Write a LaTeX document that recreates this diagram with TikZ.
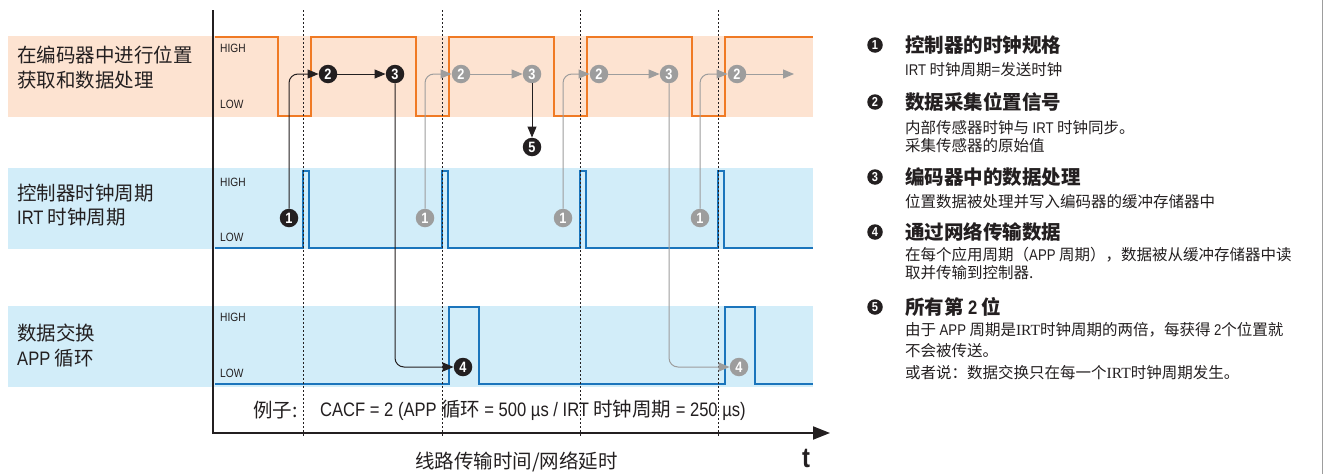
\documentclass[tikz,border=0pt]{standalone}
\usepackage{fontspec}
\setmainfont{Noto Sans CJK SC}
\newfontfamily\lat{Liberation Sans}[FakeStretch=0.85]
\newfontfamily\latser{Liberation Serif}
\usetikzlibrary{arrows.meta}
\definecolor{orline}{HTML}{F07A24}
\definecolor{orband}{HTML}{FDE3D1}
\definecolor{blline}{HTML}{1B75BC}
\definecolor{blband}{HTML}{D2EDF9}
\definecolor{mgray}{HTML}{9D9D9D}
\definecolor{dark}{HTML}{231F20}
\newcommand{\fs}[1]{\fontsize{#1}{#1}\selectfont}
\tikzset{
  sig/.style={line width=2.4pt, line join=miter},
  grid/.style={draw=dark, line width=0.8pt, dash pattern=on 2pt off 2pt},
  mk/.style={circle, fill=dark, text=white, inner sep=0pt, minimum size=18.5pt, font=\lat\bfseries\fs{15}},
  gmk/.style={mk, fill=mgray},
  lmk/.style={mk, minimum size=15.5pt, font=\lat\bfseries\fs{13}},
  conn/.style={draw=dark, line width=1pt, rounded corners=9pt, -{Triangle[length=11pt,width=9pt]}},
  gconn/.style={conn, draw=mgray},
  hl/.style={anchor=west, font=\lat\fs{12}, text=dark, inner sep=0pt},
  lbl/.style={anchor=west, font=\fs{19.5}, text=dark, inner sep=0pt},
  ltitle/.style={anchor=west, font=\bfseries\fs{19.5}, text=dark, inner sep=0pt},
  lsub/.style={anchor=west, font=\fs{15.5}, text=dark, inner sep=0pt},
}
\begin{document}
\begin{tikzpicture}[x=1pt,y=-1pt]
\useasboundingbox (0,0) rectangle (1324,474);
\fill[white] (0,0) rectangle (1324,474);
% bands
\fill[orband] (8,36) rectangle (813,117);
\fill[blband] (8,168) rectangle (813,249);
\fill[blband] (8,306) rectangle (813,387);
% signals
\draw[sig, orline] (215,37) -- (278,37) -- (278,116) -- (311,116) -- (311,37) -- (416,37) -- (416,116) -- (449,116) -- (449,37) -- (554,37) -- (554,116) -- (587,116) -- (587,37) -- (692,37) -- (692,116) -- (725,116) -- (725,37) -- (813,37);
\draw[sig, blline] (215,248) -- (303,248) -- (303,171) -- (309,171) -- (309,248) -- (442,248) -- (442,171) -- (448,171) -- (448,248) -- (580,248) -- (580,171) -- (586,171) -- (586,248) -- (718,248) -- (718,171) -- (724,171) -- (724,248) -- (813,248);
\draw[sig, blline] (215,384) -- (449,384) -- (449,307) -- (479,307) -- (479,384) -- (725,384) -- (725,307) -- (755,307) -- (755,384) -- (813,384);
% HIGH / LOW
\foreach \yh/\yl in {48/104, 182/237, 317/373} {
  \node[hl] at (220,\yh) {HIGH};
  \node[hl] at (220,\yl) {LOW};
}
% dashed time lines
\foreach \x in {303,442,580,718} \draw[grid] (\x,10) -- (\x,437);
% axes
\draw[dark, line width=2pt] (213,10) -- (213,433);
\draw[dark, line width=2pt, -{Triangle[length=17pt,width=13pt]}] (212,433) -- (830,433);
% left labels
\node[lbl] at (17,55) {在编码器中进行位置};
\node[lbl] at (17,80) {获取和数据处理};
\node[lbl] at (17,193) {控制器时钟周期};
\node[lbl] at (17,217) {{\lat IRT} 时钟周期};
\node[lbl] at (17,333) {数据交换};
\node[lbl] at (17,358) {{\lat APP} 循环};
% bottom texts
\node[lbl, font=\fs{19.5}] at (253,410) {例子:};
\node[lbl, font=\fs{19.5}] at (320,410) {{\lat CACF = 2 (APP} 循环 {\lat = 500 µs / IRT} 时钟周期 {\lat = 250 µs)}};
\node[lbl] (xlab) at (415,462) {线路传输时间/网络延时};
\node[anchor=center, font=\lat\bfseries\fs{28}, text=dark, inner sep=0pt] (tlab) at (806,458) {t};
% markers
\node[mk] (b1) at (289,218) {1};
\node[mk] (b2) at (328,74) {2};
\node[mk] (b3) at (395,74) {3};
\node[mk] (b4) at (463,367) {4};
\node[mk] (b5) at (532,147) {5};
\node[gmk] (g1a) at (425,218) {1};
\node[gmk] (g2a) at (461,74) {2};
\node[gmk] (g3a) at (532,74) {3};
\node[gmk] (g1b) at (563,218) {1};
\node[gmk] (g2b) at (599,74) {2};
\node[gmk] (g3b) at (669,74) {3};
\node[gmk] (g4) at (739,367) {4};
\node[gmk] (g1c) at (700,218) {1};
\node[gmk] (g2c) at (737,74) {2};
\coordinate (end) at (794,74);
% connectors
\draw[conn] (b1.north) |- (b2.west);
\draw[conn] (b2.east) -- (b3.west);
\draw[conn] (b3.south) |- (b4.west);
\draw[gconn] (g1a.north) |- (g2a.west);
\draw[gconn] (g2a.east) -- (g3a.west);
\draw[conn] (g3a.south) -- (b5.north);
\draw[gconn] (g1b.north) |- (g2b.west);
\draw[gconn] (g2b.east) -- (g3b.west);
\draw[gconn] (g3b.south) |- (g4.west);
\draw[gconn] (g1c.north) |- (g2c.west);
\draw[gconn] (g2c.east) -- (end);
% legend
\node[lmk] (l1) at (875,45) {1};
\node[ltitle] at (905,45) {控制器的时钟规格};
\node[lsub] at (905,70) {{\lat IRT} 时钟周期=发送时钟};
\node[lmk] (l2) at (875,102) {2};
\node[ltitle] at (905,102) {数据采集位置信号};
\node[lsub] at (905,128) {内部传感器时钟与 {\lat IRT} 时钟同步。};
\node[lsub] at (905,146) {采集传感器的原始值};
\node[lmk] (l3) at (875,177) {3};
\node[ltitle] at (905,177) {编码器中的数据处理};
\node[lsub] at (905,202) {位置数据被处理并写入编码器的缓冲存储器中};
\node[lmk] (l4) at (875,232) {4};
\node[ltitle] at (905,232) {通过网络传输数据};
\node[lsub] at (905,255) {在每个应用周期（{\lat APP} 周期），数据被从缓冲存储器中读};
\node[lsub] at (905,273) {取并传输到控制器.};
\node[lmk] (l5) at (875,307) {5};
\node[ltitle] at (905,307) {所有第 {\lat\bfseries 2} 位};
\node[lsub] at (905,330) {由于 {\lat APP} 周期是{\latser IRT}时钟周期的两倍，每获得 {\lat 2}个位置就};
\node[lsub] at (905,351) {不会被传送。};
\node[lsub] at (905,373) {或者说：数据交换只在每一个{\latser IRT}时钟周期发生。};
% right edge line
\draw[mgray, line width=1.2pt] (1322.5,0) -- (1322.5,474);
\end{tikzpicture}
\end{document}
